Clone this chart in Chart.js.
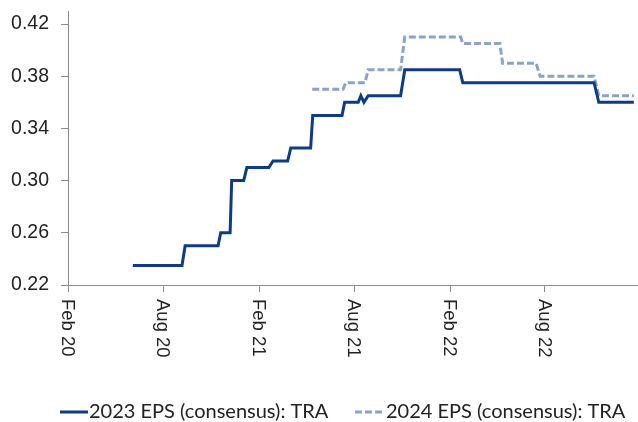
<!DOCTYPE html>
<html>
<head>
<meta charset="utf-8">
<script src="https://cdn.jsdelivr.net/npm/chart.js@4.4.1/dist/chart.umd.min.js"></script>
<style>
  html, body { margin: 0; padding: 0; background: #fff; }
  #wrap { width: 638px; height: 422px; position: relative; }
</style>
</head>
<body>
<div id="wrap"><canvas id="epsChart"></canvas></div>
<script>
// 2023 EPS consensus (breakpoints of the step line)
const dates2023 = ['2020-06-04', '2020-09-06', '2020-09-12', '2020-11-14', '2020-11-19', '2020-12-07', '2020-12-10',
    '2021-01-02', '2021-01-08', '2021-02-19', '2021-02-27', '2021-03-27', '2021-04-02', '2021-05-10', '2021-05-14',
    '2021-07-09', '2021-07-14', '2021-08-09', '2021-08-14', '2021-08-20', '2021-08-28', '2021-10-29', '2021-11-06',
    '2022-02-19', '2022-02-25', '2022-11-03', '2022-11-12', '2023-01-18'];
const eps2023 = [0.235, 0.235, 0.25, 0.25, 0.26, 0.26, 0.30,
    0.30, 0.31, 0.31, 0.315, 0.315, 0.325, 0.325, 0.35,
    0.35, 0.36, 0.36, 0.365, 0.36, 0.365, 0.365, 0.385,
    0.385, 0.375, 0.375, 0.36, 0.36];

// 2024 EPS consensus
const dates2024 = ['2021-05-13', '2021-07-11', '2021-07-16', '2021-08-22', '2021-08-28', '2021-10-29', '2021-11-06',
    '2022-02-21', '2022-02-25', '2022-05-07', '2022-05-12', '2022-07-15', '2022-07-23', '2022-11-03', '2022-11-12',
    '2023-01-18'];
const eps2024 = [0.37, 0.37, 0.375, 0.375, 0.385, 0.385, 0.41,
    0.41, 0.405, 0.405, 0.39, 0.39, 0.38, 0.38, 0.365,
    0.365];

const seriesNames = ['2023 EPS (consensus): TRA', '2024 EPS (consensus): TRA'];

const xTickDates = ['2020-02-01', '2020-08-01', '2021-02-01', '2021-08-01', '2022-02-01', '2022-08-01'];
const xTickLabels = ['Feb 20', 'Aug 20', 'Feb 21', 'Aug 21', 'Feb 22', 'Aug 22'];
const yTicks = [0.22, 0.26, 0.30, 0.34, 0.38, 0.42];

const toPoints = (dates, vals) => dates.map((d, i) => ({ x: Date.parse(d), y: vals[i] }));

const AXIS_FONT = '"Liberation Sans", Arial, sans-serif';
const LEGEND_FONT = 'Lato, "Open Sans", sans-serif';
const NAVY = '#0d3c85';
const LIGHT = '#8aa3c9';

// rotated (top-to-bottom) x labels
const xLabelPlugin = {
    id: 'xLabels',
    afterDraw(chart) {
        const ctx = chart.ctx;
        const xs = chart.scales.x;
        ctx.save();
        ctx.font = '18.5px ' + AXIS_FONT;
        ctx.fillStyle = '#222';
        ctx.textAlign = 'left';
        ctx.textBaseline = 'middle';
        xTickDates.forEach((d, i) => {
            const px = xs.getPixelForValue(Date.parse(d));
            ctx.save();
            ctx.translate(px - 1, chart.chartArea.bottom + 14);
            ctx.rotate(Math.PI / 2);
            ctx.fillText(xTickLabels[i], 0, 0);
            ctx.restore();
        });
        ctx.restore();
    }
};

// legend: line sample directly followed by text
const legendPlugin = {
    id: 'lineLegend',
    afterDraw(chart) {
        const ctx = chart.ctx;
        const y = 412;
        const items = [{ x: 60, w: 28 }, { x: 355, w: 30 }];
        ctx.save();
        ctx.font = '20px ' + LEGEND_FONT;
        ctx.fillStyle = '#222';
        ctx.textBaseline = 'middle';
        chart.data.datasets.forEach((ds, i) => {
            const it = items[i];
            ctx.beginPath();
            ctx.strokeStyle = ds.borderColor;
            ctx.lineWidth = 3;
            ctx.setLineDash(ds.borderDash || []);
            ctx.moveTo(it.x, y);
            ctx.lineTo(it.x + it.w, y);
            ctx.stroke();
            ctx.setLineDash([]);
            ctx.fillText(ds.label, it.x + it.w + 1, y);
        });
        ctx.restore();
    }
};

new Chart(document.getElementById('epsChart').getContext('2d'), {
    type: 'line',
    data: {
        datasets: [{
            label: seriesNames[0],
            data: toPoints(dates2023, eps2023),
            borderColor: NAVY,
            borderWidth: 3,
            pointRadius: 0,
            tension: 0
        }, {
            label: seriesNames[1],
            data: toPoints(dates2024, eps2024),
            borderColor: LIGHT,
            borderWidth: 3,
            borderDash: [7, 3],
            pointRadius: 0,
            tension: 0
        }]
    },
    options: {
        responsive: true,
        maintainAspectRatio: false,
        animation: false,
        layout: { padding: { top: 11, right: 0, bottom: 0, left: 0 } },
        plugins: {
            legend: { display: false },
            tooltip: { enabled: false }
        },
        scales: {
            x: {
                type: 'linear',
                min: Date.UTC(2020, 1, 1),
                max: Date.UTC(2023, 0, 26),
                afterBuildTicks: (s) => { s.ticks = xTickDates.map(d => ({ value: Date.parse(d) })); },
                afterFit: (s) => { s.height = 137; s.paddingLeft = 0; s.paddingRight = 0; },
                ticks: { display: false },
                grid: { drawOnChartArea: false, drawTicks: true, tickLength: 7, color: '#8c8c8c' },
                border: { display: true, color: '#8c8c8c' }
            },
            y: {
                min: 0.22,
                max: 0.43,
                afterBuildTicks: (s) => { s.ticks = yTicks.map(v => ({ value: v })); },
                afterFit: (s) => { s.width = 68; s.paddingTop = 0; s.paddingBottom = 0; },
                ticks: {
                    padding: 12,
                    color: '#222',
                    font: { family: AXIS_FONT, size: 19.5 },
                    callback: (v) => v.toFixed(2)
                },
                grid: { drawOnChartArea: false, drawTicks: true, tickLength: 7, color: '#8c8c8c' },
                border: { display: true, color: '#8c8c8c' }
            }
        }
    },
    plugins: [xLabelPlugin, legendPlugin]
});
</script>
</body>
</html>
